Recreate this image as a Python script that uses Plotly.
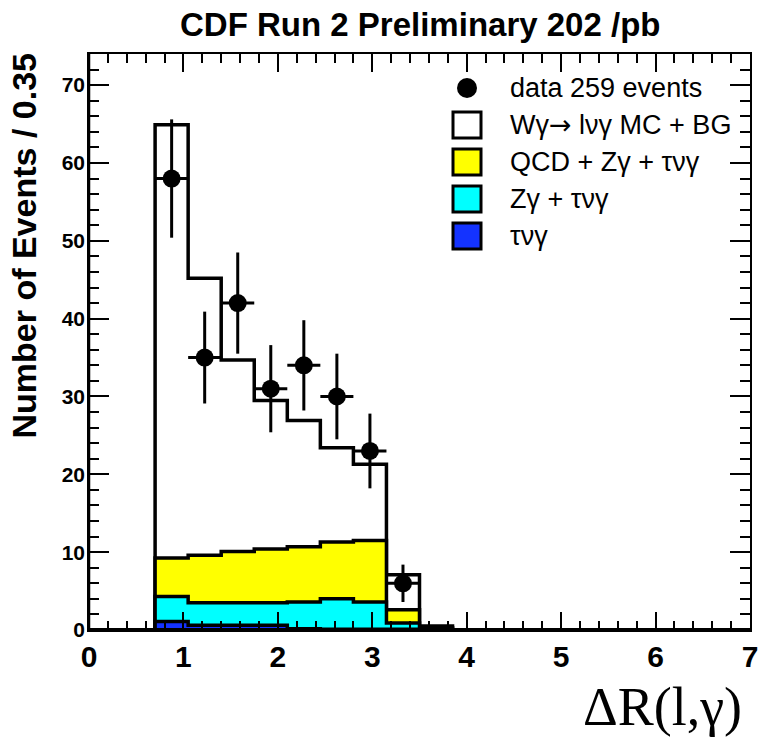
import plotly.graph_objects as go

# ---------------- data ----------------
bin_edges = [0.70, 1.05, 1.40, 1.75, 2.10, 2.45, 2.80, 3.15, 3.50, 3.85]
bin_centers = [0.875, 1.225, 1.575, 1.925, 2.275, 2.625, 2.975, 3.325]

total_mc = [64.9, 45.2, 34.7, 29.5, 26.9, 23.4, 21.3, 7.1, 0.5]      # W gamma -> l nu gamma MC + BG
qcd_zg_tng = [9.25, 9.6, 10.1, 10.4, 10.7, 11.3, 11.5, 2.6, 0.3]     # QCD + Z gamma + tau nu gamma
zg_tng = [4.3, 3.5, 3.5, 3.5, 3.6, 4.0, 3.6, 0.9, 0.1]               # Z gamma + tau nu gamma
tng = [1.1, 0.6, 0.6, 0.6, 0.15, 0.1, 0.1, 0.1, 0.0]                  # tau nu gamma

data_counts = [58, 35, 42, 31, 34, 30, 23, 6]
data_errors = [7.6, 5.9, 6.5, 5.6, 5.8, 5.5, 4.8, 2.4]
data_xerr = 0.175

x_tick_vals = [0, 1, 2, 3, 4, 5, 6, 7]
y_tick_vals = [0, 10, 20, 30, 40, 50, 60, 70]

ARROW = '<span style="font-family:DejaVu Sans">\u2192</span>'
legend_labels = ["data 259 events", "Wγ" + ARROW + " lνγ MC + BG", "QCD + Zγ + τνγ", "Zγ + τνγ", "τνγ"]
legend_colors = [None, "#ffffff", "#ffff00", "#00ffff", "#1433ff"]

# ---------------- figure ----------------
W, H = 759, 744
ML, MR, MT, MB = 89, 9, 54, 114
PW, PH = W - ML - MR, H - MT - MB

def px_x(px):
    return (px - ML) / PW

def px_y(py):
    return (H - MB - py) / PH

def step_xy(edges, vals):
    xs = [edges[0]] + list(edges[:-1]) + [edges[-1]]
    ys = [0] + list(vals) + [0]
    return xs, ys

fig = go.Figure()

for vals, col in [(total_mc, "#ffffff"), (qcd_zg_tng, "#ffff00"),
                  (zg_tng, "#00ffff"), (tng, "#1433ff")]:
    xs, ys = step_xy(bin_edges, vals)
    fig.add_trace(go.Scatter(
        x=xs, y=ys, mode="lines", line=dict(shape="hv", color="black", width=3.5),
        fill="tozeroy", fillcolor=col, showlegend=False, hoverinfo="skip"))

fig.add_trace(go.Scatter(
    x=bin_centers, y=data_counts, mode="markers",
    marker=dict(color="black", size=18, symbol="circle"),
    error_y=dict(type="data", array=data_errors, color="black", thickness=3, width=0),
    error_x=dict(type="constant", value=data_xerr, color="black", thickness=3, width=0),
    showlegend=False, hoverinfo="skip"))

axis_common = dict(
    showgrid=False, zeroline=False, showline=True, linecolor="black", linewidth=1.5,
    mirror="allticks", ticks="inside", tickcolor="black", tickwidth=1.5,
    automargin=False,
)

fig.update_xaxes(
    range=[0, 7], tickvals=x_tick_vals, ticklen=18, ticklabelstandoff=-1,
    tickfont=dict(family="Liberation Sans", size=30, color="black", weight="bold"),
    minor=dict(dtick=0.2, ticks="inside", ticklen=9, tickwidth=1.5, tickcolor="black"),
    **axis_common)
fig.update_yaxes(
    range=[0, 74], tickvals=y_tick_vals, ticklen=20, ticklabelstandoff=-2,
    tickfont=dict(family="Liberation Sans", size=21, color="black", weight="bold"),
    minor=dict(dtick=2, ticks="inside", ticklen=10, tickwidth=1.5, tickcolor="black"),
    **axis_common)

shapes = [
    dict(type="line", xref="paper", yref="paper", x0=0, x1=1, y0=0, y1=0,
         line=dict(color="black", width=4), layer="above"),
    dict(type="line", xref="paper", yref="paper", x0=0, x1=0, y0=0, y1=1,
         line=dict(color="black", width=2.5), layer="above"),
]
annotations = []

# manual legend
row_y = [88, 125, 162, 199, 236]
cx = 467
for i, (lab, col) in enumerate(zip(legend_labels, legend_colors)):
    yc = row_y[i]
    if col is None:
        shapes.append(dict(type="circle", xref="paper", yref="paper",
                           x0=px_x(cx - 10), x1=px_x(cx + 10),
                           y0=px_y(yc + 10), y1=px_y(yc - 10),
                           fillcolor="black", line=dict(color="black", width=0)))
    else:
        shapes.append(dict(type="rect", xref="paper", yref="paper",
                           x0=px_x(cx - 14), x1=px_x(cx + 14),
                           y0=px_y(yc + 13), y1=px_y(yc - 13),
                           fillcolor=col, line=dict(color="black", width=3)))
    annotations.append(dict(text=lab, xref="paper", yref="paper",
                            x=px_x(508), y=px_y(yc), xanchor="left", yanchor="middle",
                            showarrow=False,
                            font=dict(family="Liberation Sans", size=27, color="black")))

# title
annotations.append(dict(text="CDF Run 2 Preliminary 202 /pb", xref="paper", yref="paper",
                        x=0.5, y=px_y(24), xanchor="center", yanchor="middle", showarrow=False,
                        font=dict(family="Liberation Sans", size=33, color="black", weight="bold")))
# y title
annotations.append(dict(text="Number of Events / 0.35", xref="paper", yref="paper",
                        x=px_x(24), y=px_y(52), xanchor="center", yanchor="top",
                        textangle=-90, showarrow=False,
                        font=dict(family="Liberation Sans", size=34, color="black", weight="bold")))
# x title
annotations.append(dict(text="ΔR(l,γ)", xref="paper", yref="paper",
                        x=px_x(744), y=px_y(707), xanchor="right", yanchor="middle",
                        showarrow=False,
                        font=dict(family="Liberation Serif", size=54, color="black")))

fig.update_layout(
    width=W, height=H,
    margin=dict(l=ML, r=MR, t=MT, b=MB, pad=0, autoexpand=False),
    paper_bgcolor="white", plot_bgcolor="white",
    shapes=shapes, annotations=annotations,
    showlegend=False, hovermode=False,
)

fig.write_html("out.html", config={"displayModeBar": False},
               post_script="document.body.style.margin='0';document.body.style.overflow='hidden';")
